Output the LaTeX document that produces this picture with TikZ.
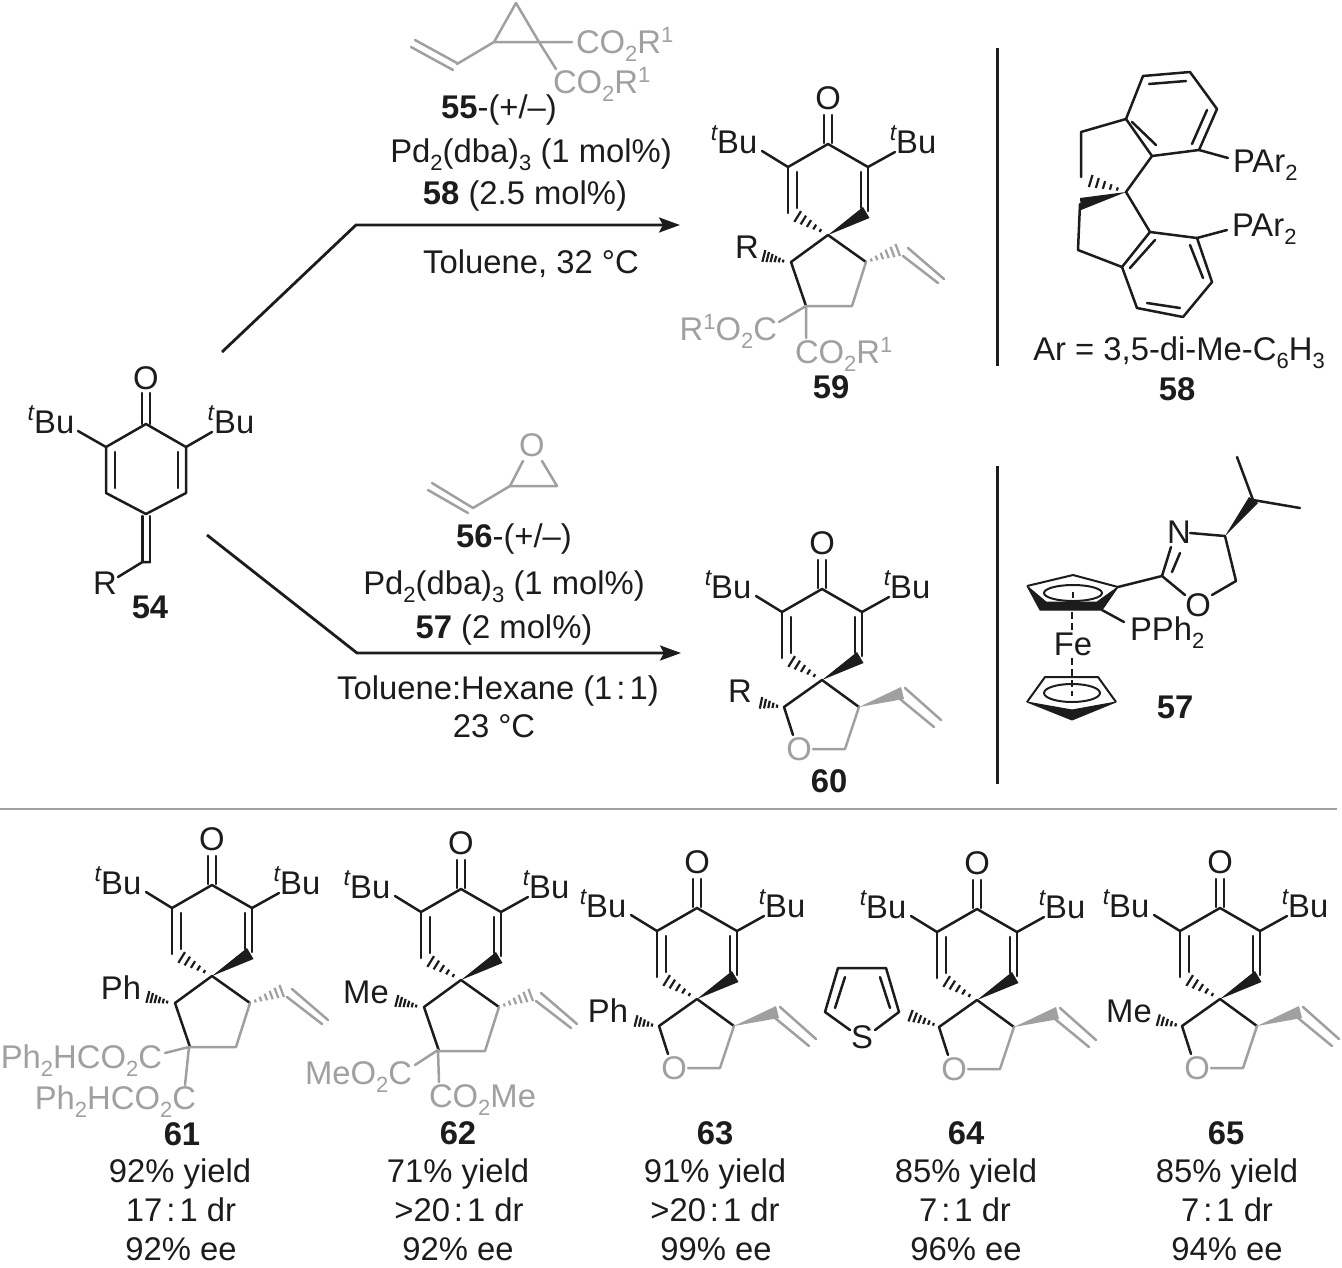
\documentclass[tikz,border=0pt]{standalone}
\usepackage{fontspec}
\setmainfont{Liberation Sans}
\usetikzlibrary{calc,arrows.meta}
\definecolor{ink}{HTML}{1C1C1C}
\definecolor{pale}{HTML}{A0A0A0}
\newcommand\chsub[1]{\raisebox{-8pt}{\fontsize{22}{22}\selectfont #1}}
\newcommand\chsup[1]{\raisebox{11pt}{\fontsize{22}{22}\selectfont #1}}
\newcommand\tbu{\raisebox{13pt}{\fontsize{23}{23}\selectfont\itshape t}Bu}
\newcommand\rat{\kern4pt:\kern4pt}
\tikzset{
  lab/.style={anchor=base,inner sep=0pt,outer sep=0pt,text=ink,font=\fontsize{32.8}{38}\selectfont},
  glab/.style={lab,text=pale},
  bd/.style={draw=ink,line width=2.5pt,line cap=round,line join=round},
  gbd/.style={draw=pale,line width=2.5pt,line cap=round,line join=round},
  thin bd/.style={draw=ink,line width=2pt,line join=round},
  rxn/.style={draw=ink,line width=2.8pt,line join=miter,-{Stealth[length=21pt,width=15pt,inset=4pt]}},
  rule/.style={draw=ink,line width=3pt},
}
% hashed bond: narrow at #1, wide at #2
\newcommand\hashb[5]{%
  \foreach \hbi in {1,...,#4}{%
    \pgfmathsetmacro\hbt{\hbi/#4}%
    \pgfmathsetmacro\hbh{#3*\hbt+0.5}%
    \coordinate (hbp) at ($(#1)!\hbt!(#2)$);
    \draw[#5,line width=2.2pt,line cap=butt] ($(hbp)!\hbh pt!90:(#2)$) -- ($(hbp)!\hbh pt!-90:(#2)$);
  }}
% the 2,6-di-tert-butyl dienone half of every spiro product; #1 name, #2 x, #3 y of the spiro atom
\newcommand\dienone[3]{%
\begin{scope}[shift={(#2,#3)}]
  \node[lab] (#1O) at (0,-126) {O};
  \node[lab] (#1TL) at (-94,-82) {\tbu};
  \node[lab] (#1TR) at (85,-82) {\tbu};
  \draw[bd] (-4,-92) -- (-4,-120) (4,-92) -- (4,-120);
  \draw[bd] (-66,-84) -- (-40,-68) -- (0,-91) -- (40,-68) -- (67,-83);
  \draw[bd] (-40,-68) -- (-40,-22);
  \draw[bd] (40,-68) -- (40,-24);
  \draw[bd] (-31,-63) -- (-31,-27) (33,-63) -- (33,-27);
  \fill[ink] (0,0) -- (35,-28) -- (41.5,-17) -- cycle;
  \hashb{-2,-1}{-36,-22}{7}{6}{ink}
\end{scope}}
% cyclopentane half; #1 name, #2 x, #3 y, #4 substituent text, #5 x and #6 y of that text
\newcommand\carbo[6]{%
\begin{scope}[shift={(#2,#3)}]
  \node[lab] (#1R) at (#5,#6) {#4};
  \draw[bd] (-22,71) -- (-37,27) -- (0,0) -- (38,27);
  \draw[gbd] (-22,71) -- (24,71) -- (38,27);
  \hashb{-41,27}{-68,20}{6.5}{7}{ink}
  \hashb{38,27}{75,13}{7}{7}{pale}
  \draw[gbd] (80,13) -- (116,44) (75,21) -- (110,48);
\end{scope}}
% tetrahydrofuran half; #1 name, #2 x, #3 y
\newcommand\thf[3]{%
\begin{scope}[shift={(#2,#3)}]
  \node[glab] (#1OX) at (-23,80) {O};
  \draw[bd] (-29,55) -- (-38,27) -- (0,0) -- (37,27);
  \draw[gbd] (-9,69) -- (23,69) -- (37,27);
  \fill[pale] (37,27) -- (79,7) -- (82,19) -- cycle;
  \draw[gbd] (83,8) -- (119,40) (78,19) -- (112,47);
\end{scope}}
\begin{document}
\begin{tikzpicture}[x=1pt,y=-1pt]
\useasboundingbox (0,0) rectangle (1342,1267);
% ---------- 54
\node[lab] (O54) at (146,389.5) {O};
\node[lab] (TL54) at (51,433) {\tbu};
\node[lab] (TR54) at (231,433) {\tbu};
\node[lab] (R54) at (105,594) {R};
\node[lab] (n54) at (150,618) {\textbf{54}};
\draw[bd] (142,393) -- (142,424) (150,393) -- (150,424);
\draw[bd] (78,431) -- (106,447) -- (146,424) -- (186,447) -- (212,432);
\draw[bd] (106,447) -- (106,493) -- (146,514) -- (186,493) -- (186,447);
\draw[bd] (115,452) -- (115,488) (178,452) -- (178,488);
\draw[bd] (142.5,516) -- (142.5,562) (150,516) -- (150,562);
\draw[bd] (118,577) -- (142.5,562) -- (150,562);
% ---------- arrows
\coordinate (a1s) at (222,352); \coordinate (a1m) at (356,225); \coordinate (a1e) at (680,225);
\coordinate (a2s) at (207,535); \coordinate (a2m) at (357,653); \coordinate (a2e) at (681,653);
\draw[rxn] (a1s) -- (a1m) -- (a1e);
\draw[rxn] (a2s) -- (a2m) -- (a2e);
% ---------- 55
\draw[gbd] (516,3) -- (494,42) -- (539,42) -- cycle;
\draw[gbd] (494,42) -- (457,64);
\draw[gbd] (415,40) -- (457,63) (411,47) -- (453,70);
\draw[gbd] (539,42) -- (572,42) (539,42) -- (556,69);
\node[glab,anchor=base west] (e551) at (576,53) {CO\chsub{2}R\chsup{1}};
\node[glab,anchor=base west] (e552) at (553,93) {CO\chsub{2}R\chsup{1}};
\node[lab] (r551) at (499,118) {\textbf{55}-(+/–)};
\node[lab] (r552) at (531,162) {Pd\chsub{2}(dba)\chsub{3} (1 mol\%)};
\node[lab] (r553) at (525,204) {\textbf{58} (2.5 mol\%)};
\node[lab] (r554) at (531,273) {Toluene, 32 °C};
% ---------- 56
\node[glab] (O56) at (532,456.5) {O};
\draw[gbd] (523,461) -- (510,486) -- (557,486) -- (542,461);
\draw[gbd] (510,486) -- (473,508);
\draw[gbd] (432,483) -- (473,508) (428,490) -- (468,513);
\node[lab] (r561) at (514,547) {\textbf{56}-(+/–)};
\node[lab] (r562) at (504,594) {Pd\chsub{2}(dba)\chsub{3} (1 mol\%)};
\node[lab] (r563) at (504,638) {\textbf{57} (2 mol\%)};
\node[lab] (r564) at (498,699) {Toluene:Hexane (1\rat 1)};
\node[lab] (r565) at (494,737) {23 °C};
% ---------- 59
\dienone{p59}{828}{235}
\carbo{p59}{828}{235}{R}{-81}{23}
\draw[gbd] (806,306) -- (779,322) (806,306) -- (806,338);
\node[glab,anchor=base east] (e591) at (777,340) {R\chsup{1}O\chsub{2}C};
\node[glab,anchor=base west] (e592) at (795,363) {CO\chsub{2}R\chsup{1}};
\node[lab] (n59) at (831,398) {\textbf{59}};
% ---------- 60
\dienone{p60}{822}{680}
\thf{p60}{822}{680}
\node[lab] (R60) at (740,702) {R};
\hashb{781,707}{757,702}{6.5}{6}{ink}
\node[lab] (n60) at (829,792) {\textbf{60}};
% ---------- 58
\draw[bd] (1143,76) -- (1190,72) -- (1217,109) -- (1199,150) -- (1152,156) -- (1126,119) -- cycle;
\draw[bd] (1149,84) -- (1186,81) (1207,110) -- (1192,144) (1132,122) -- (1156,145);
\draw[bd] (1126,119) -- (1081,132) -- (1081,177);
\draw[bd] (1152,156) -- (1126,192) -- (1150,232);
\draw[bd] (1199,150) -- (1228,158);
\draw[bd] (1150,232) -- (1197,238) -- (1212,282) -- (1183,317) -- (1137,308) -- (1122,267) -- cycle;
\draw[bd] (1190,245) -- (1203,278) (1147,303) -- (1180,308) (1130,268) -- (1155,240);
\draw[bd] (1122,267) -- (1078,250) -- (1080,204);
\draw[bd] (1197,238) -- (1227,230);
\fill[ink] (1126,192) -- (1080,198) -- (1081,210) -- cycle;
\hashb{1124,191}{1084,179}{7}{6}{ink}
\node[lab,anchor=base west] (P581) at (1233,172) {PAr\chsub{2}};
\node[lab,anchor=base west] (P582) at (1232,236) {PAr\chsub{2}};
\node[lab] (Ar58) at (1179,360) {Ar = 3,5-di-Me-C\chsub{6}H\chsub{3}};
\node[lab] (n58) at (1177,400) {\textbf{58}};
% ---------- 57
\filldraw[ink,line width=1pt,line join=round] (1027,586) -- (1040,610) -- (1102,610) -- (1118,587) -- (1097,602) -- (1046,602) -- cycle;
\draw[thin bd] (1027,586) -- (1073,575) -- (1118,587);
\draw[thin bd] (1073,593) ellipse (29pt and 8pt);
\draw[thin bd] (1073,592) -- (1073,598);
\draw[thin bd,dash pattern=on 7pt off 4pt] (1072,612) -- (1072,634);
\node[lab] (Fe57) at (1073,655) {Fe};
\draw[thin bd,dash pattern=on 7pt off 4pt] (1072,658) -- (1072,696);
\filldraw[ink,line width=1pt,line join=round] (1027,702) -- (1072,720) -- (1116,702) -- (1072,710) -- cycle;
\draw[thin bd] (1027,702) -- (1045,677) -- (1098,677) -- (1116,702);
\draw[thin bd] (1072,693) ellipse (28pt and 9pt);
\draw[bd] (1118,587) -- (1162,576) -- (1185,595);
\draw[bd] (1162,576) -- (1171,547) (1180,553) -- (1172,572);
\node[lab] (N57) at (1179,543) {N};
\node[lab] (O57) at (1198,616.5) {O};
\draw[bd] (1190,533) -- (1225,536) -- (1236,581) -- (1212,595);
\fill[ink] (1225,536) -- (1249,497) -- (1258,503) -- cycle;
\draw[bd] (1237,457) -- (1253,500) -- (1300,508);
\draw[bd] (1102,610) -- (1124,622);
\node[lab,anchor=base west] (P57) at (1130,640) {PPh\chsub{2}};
\node[lab] (n57) at (1175,718) {\textbf{57}};
% ---------- rules
\draw[rule] (997,48) -- (997,366);
\draw[rule] (997,466) -- (997,784);
\draw[draw=pale,line width=2.4pt] (0,809) -- (1337,809);
% ---------- 61
\dienone{p61}{212}{976}
\carbo{p61}{212}{976}{Ph}{-91}{23}
\draw[gbd] (189,1047) -- (165,1053) (189,1047) -- (185,1085);
\node[glab,anchor=base east] (e611) at (162,1068) {Ph\chsub{2}HCO\chsub{2}C};
\node[glab,anchor=base east] (e612) at (196,1109) {Ph\chsub{2}HCO\chsub{2}C};
% ---------- 62
\dienone{p62}{461}{980}
\carbo{p62}{461}{980}{Me}{-95}{23}
\draw[gbd] (438,1050) -- (415,1065) (438,1050) -- (439,1082);
\node[glab,anchor=base east] (e621) at (412,1084) {MeO\chsub{2}C};
\node[glab,anchor=base west] (e622) at (429,1107) {CO\chsub{2}Me};
% ---------- 63
\dienone{p63}{697}{999}
\thf{p63}{697}{999}
\node[lab] (R63) at (608,1022) {Ph};
\hashb{656,1026}{632,1020}{6.5}{6}{ink}
% ---------- 64
\dienone{p64}{977}{1000}
\thf{p64}{977}{1000}
\node[lab] (S64) at (862,1048) {S};
\draw[bd] (850,1030) -- (825,1012) -- (838,968) -- (886,968) -- (899,1012) -- (875,1030);
\draw[bd] (845,977) -- (835,1008) (880,977) -- (890,1008);
\hashb{938,1026}{906,1014}{6.5}{7}{ink}
% ---------- 65
\dienone{p65}{1220}{999}
\thf{p65}{1220}{999}
\node[lab] (R65) at (1129,1022) {Me};
\hashb{1180,1026}{1154,1019}{6.5}{6}{ink}
% ---------- data
\node[lab] (n61) at (182,1145) {\textbf{61}};
\node[lab] (y61) at (180,1182) {92\% yield};
\node[lab] (d61) at (181,1221) {17\rat 1 dr};
\node[lab] (e61) at (181,1260) {92\% ee};
\node[lab] (n62) at (458,1144) {\textbf{62}};
\node[lab] (y62) at (458,1182) {71\% yield};
\node[lab] (d62) at (459,1221) {>20\rat 1 dr};
\node[lab] (e62) at (458,1260) {92\% ee};
\node[lab] (n63) at (715,1144) {\textbf{63}};
\node[lab] (y63) at (715,1182) {91\% yield};
\node[lab] (d63) at (715,1221) {>20\rat 1 dr};
\node[lab] (e63) at (716,1260) {99\% ee};
\node[lab] (n64) at (966,1144) {\textbf{64}};
\node[lab] (y64) at (966,1182) {85\% yield};
\node[lab] (d64) at (965,1221) {7\rat 1 dr};
\node[lab] (e64) at (966,1260) {96\% ee};
\node[lab] (n65) at (1226,1144) {\textbf{65}};
\node[lab] (y65) at (1227,1182) {85\% yield};
\node[lab] (d65) at (1227,1221) {7\rat 1 dr};
\node[lab] (e65) at (1227,1260) {94\% ee};
\end{tikzpicture}
\end{document}
